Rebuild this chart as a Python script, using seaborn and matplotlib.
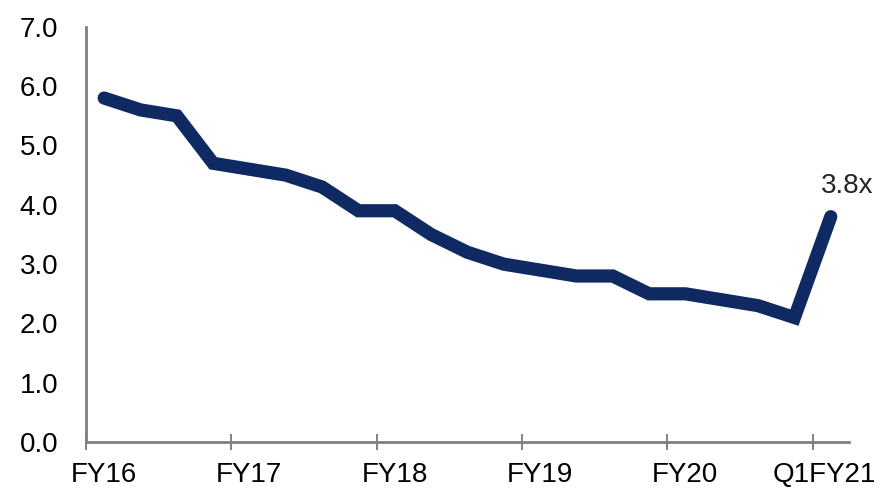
import numpy as np
import pandas as pd
import seaborn as sns
import matplotlib.pyplot as plt
import matplotlib.transforms as mtransforms

# Quarterly values, FY16 Q1 .. Q1FY21
values = [5.8, 5.6, 5.5, 4.7,
          4.6, 4.5, 4.3, 3.9,
          3.9, 3.5, 3.2, 3.0,
          2.9, 2.8, 2.8, 2.5,
          2.5, 2.4, 2.3, 2.1,
          3.8]
tick_labels = ["FY16", "FY17", "FY18", "FY19", "FY20", "Q1FY21"]
tick_pos = [-0.5, 3.5, 7.5, 11.5, 15.5, 19.5]
last_label = "3.8x"

df = pd.DataFrame({"q": np.arange(len(values)), "value": values})

sns.set_style("white")
plt.rcParams["font.family"] = ["Liberation Sans", "DejaVu Sans"]

fig = plt.figure(figsize=(8.8, 4.88), dpi=100)
ax = fig.add_axes([0.0977, 0.094, 0.867, 0.851])

line_color = "#0f2a62"
sns.lineplot(data=df, x="q", y="value", ax=ax, color=line_color,
             linewidth=9.5, solid_capstyle="round", solid_joinstyle="miter")

ax.set_xlim(-0.5, 20.5)
ax.set_ylim(0, 7)
ax.set_yticks(np.arange(0, 7.5, 1.0))
ax.set_yticklabels([f"{v:.1f}" for v in np.arange(0, 7.5, 1.0)])
ax.set_xticks(tick_pos)
ax.set_xticklabels(tick_labels)
ax.set_xlabel("")
ax.set_ylabel("")

for side in ["top", "right"]:
    ax.spines[side].set_visible(False)
for side in ["left", "bottom"]:
    ax.spines[side].set_color("#808080")
    ax.spines[side].set_linewidth(2)

ax.tick_params(axis="y", left=False, length=0, pad=20, labelsize=20, labelcolor="black")
ax.tick_params(axis="x", bottom=True, direction="inout", length=12, width=1.4,
               color="#808080", pad=8, labelsize=20, labelcolor="black")

# labels sit a little right of their tick marks in the reference
labels = ax.get_xticklabels()
for i, lbl in enumerate(labels):
    dx = 12 if i == len(labels) - 1 else 18
    shift = mtransforms.ScaledTranslation(dx / 100, 0, fig.dpi_scale_trans)
    lbl.set_transform(lbl.get_transform() + shift)

ax.annotate(last_label, xy=(df["q"].iloc[-1], values[-1]), xytext=(12, 22),
            textcoords="offset points", ha="center", va="center", fontsize=20)

fig.savefig("out.png", dpi=100)
